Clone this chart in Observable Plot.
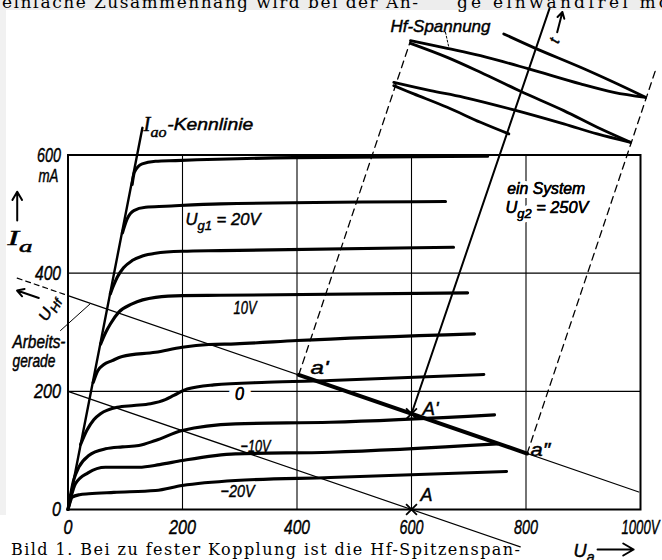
<!DOCTYPE html>
<html><head><meta charset="utf-8">
<script src="https://cdn.jsdelivr.net/npm/d3@7"></script>
<script src="https://cdn.jsdelivr.net/npm/@observablehq/plot@0.6"></script>
<style>
html,body{margin:0;padding:0;background:#fff;}
#wrap{position:relative;width:662px;height:560px;overflow:hidden;}
#bg,#fg{position:absolute;left:0;top:0;}
#fg g[aria-label="text"]:not([stroke="white"]) text { stroke: black; stroke-width: 0.45px; }
#fg g[aria-label*="axis"] text { font-size: 21px; stroke: black; stroke-width: 0.45px; }
</style></head><body>
<div id="wrap">
<svg id="bg" width="662" height="560">
  <rect x="0" y="0" width="662" height="10" fill="#ededed"/>
  <rect x="0" y="10" width="6" height="505" fill="#f1f1f1"/>
  <text x="2" y="8" font-family="'DejaVu Serif', serif" font-size="17" textLength="416" lengthAdjust="spacing">einfache Zusammenhang wird bei der An-</text>
  <text x="457" y="8" font-family="'DejaVu Serif', serif" font-size="17" textLength="226" lengthAdjust="spacing">ge einwandfrei mög</text>
  <text x="11" y="555" font-family="'DejaVu Serif', serif" font-size="16" textLength="509" lengthAdjust="spacing">Bild 1. Bei zu fester Kopplung ist die Hf-Spitzenspan-</text>
</svg>
<div id="fg"></div>
</div>
<script>
// ---- axes ----
const xTicks = [0, 200, 400, 600, 800, 1000];
const xTickLabels = ["0", "200", "400", "600", "800", "1000V"];
const yTicks = [0, 200, 400, 600];
const yTickLabels = ["0", "200", "400", "600"];
const xGrid = [200, 400, 600, 800];
const yGrid = [200, 400];

// ---- Ia(Ua) characteristics, [Ua in V, Ia in mA] ----
const curve1 = [[112,550],[116,571],[129.6,585],[152.8,589.3],[188,590.5],[394,595.6],[733,598]];
const curve2 = [[95,468],[103.4,492],[115,506],[135.4,511.5],[170.3,513.2],[266.4,517.3],[659.4,521.2]];
const curve3 = [[74,365],[80,380],[86,393],[97,409],[112,421.3],[130,429],[152.8,433.7],[199.5,437],[266.4,438.2],[673.4,443.8]];
const curve4 = [[57,280],[66,300],[74,314],[88.7,334],[112,348],[153,359],[200,362],[266,362.5],[698,366.7]];
const curve5 = [[44,215],[52,235],[62,245],[77.2,252],[94.7,259],[152.8,266.2],[199.5,274.6],[245.9,279.2],[292.6,280.4],[400.3,286],[710,297.3]];
const curve6 = [[22,110],[33,134],[45,152],[56.8,162],[85.9,173],[115,176],[144.1,179],[170,186],[184.8,193],[208.2,204],[254.7,211],[348,215.4],[458.5,218.3],[726.3,228.4]];
const curve7 = [[0,0],[10,50],[18.9,71.6],[36.3,91.4],[65.5,102.7],[95,106],[123.7,108.3],[152.8,116.8],[199.5,133.7],[292.6,145],[458.5,147.7],[745,160.2]];
const curve8 = [[0,0],[5,20],[13,43.5],[35,62],[65.5,71.6],[123.7,71.6],[160,76],[199.5,82.9],[292.6,94.2],[458.5,97],[750,111]];
const curve9 = [[0,0],[3,10],[7.3,20.8],[20,25],[36.3,26.6],[80,29],[152.8,32.1],[199.5,40.6],[292.6,49.1],[458.5,54.1],[766,64.3]];
const curves = [curve1, curve2, curve3, curve4, curve5, curve6, curve7, curve8, curve9];

// ---- straight lines ----
const iaoLine = [[0,0],[130,646]];
const loadLineA = [[0,200],[790,-63.3]];          // through A
const loadLineB = [[0,362],[997,29.7]];           // shifted, through A'
const loadLineBExt = [[-88.7,391.6],[0,362]];     // dashed continuation (U_Hf direction)
const workSegment = [[403,227.7],[802,94.7]];     // a' .. a''
const projLeft = [[403,227.7],[598.3,793.6]];     // dashed from a'
const projRight = [[802,94.7],[1026,742.8]];      // dashed from a''
const timeAxis = [[600,162],[841,847.7]];
const leaderArbeit = [[-13.1,302.9],[39.3,348.6]];
const leaderHf = [[659.4,807.6],[665.2,782.2]];

// ---- Hf voltage sweep (zig-zag envelope) ----
const hfE = [[569.1,717.4],[604,703.4],[662.4,680.7],[720.5,655.3],[770,635.7]];
const hfD = [[569.1,723],[633.2,709],[691.4,697.6],[778.7,676.3],[866,652.6],[924.4,635.7],[982.5,621.5]];
const hfC = [[598.3,789],[662.4,765.3],[720.5,740],[790.4,707.8],[866,675.1],[924.4,646.9],[982.5,621.5]];
const hfB = [[598.3,793.6],[662.4,780.5],[720.5,768.2],[804.9,745.7],[895.2,720.3],[953.4,706.1],[1008.7,697.6]];
const hfA = [[761.2,804.9],[816.6,780.5],[895.2,748.4],[953.4,723],[1008.7,697.6]];
const hfLines = [hfE, hfD, hfC, hfB, hfA];

// ---- points ----
const crossPoints = [[600,0],[600,162]];

// ---- texts ----
const curveLabels = ["U_{g1} = 20V", "10V", "0", "−10V", "−20V"];
const pointLabels = ["a'", "A'", "A", "a\u2033"];
const otherLabels = ["ein System", "U_{g2} = 250V", "Arbeits-", "gerade", "mA", "Hf-Spannung", "-Kennlinie", "t"];
const symbolLabels = ["I_{ao}", "I_{a}", "U_{a}", "U_{Hf}"];

// rendered widths (px) of the condensed technical lettering
const textWidths = {"0": 9, "200": 27, "400": 26, "600": 24, "800": 24, "1000V": 38, "mA": 20,
  "U_{g1} = 20V": 75, "10V": 23, "−10V": 30, "−20V": 34, "ein System": 78, "U_{g2} = 250V": 83,
  "a'": 18, "A'": 16, "A": 12, "a\u2033": 20, "Arbeits-": 53, "gerade": 43, "Hf-Spannung": 100,
  "-Kennlinie": 86, "I_{ao}": 23, "I_{a}": 25, "U_{a}": 21, "U_{Hf}": 26};

const SANS = "'Liberation Sans', Arial, sans-serif";
const SERIF = "'Liberation Serif', 'DejaVu Serif', serif";

const X = d => d[0], Y = d => d[1];
const seg = (pts, o) => Plot.line(pts, {x: X, y: Y, stroke: "black", ...o});
const lab = (s, x, y, o = {}) => Plot.text([s], {x: () => x, y: () => y, text: d => d, textAnchor: "start",
  fontFamily: SANS, fontStyle: "italic", fontSize: 17, fill: "black", ...o});

const plot = Plot.plot({
  width: 662, height: 560,
  marginLeft: 67.5, marginRight: 22, marginTop: 154.5, marginBottom: 51,
  style: {background: "transparent", fontFamily: SANS, fontStyle: "italic", fontSize: "21px", color: "black", overflow: "visible"},
  x: {domain: [0, 1000], ticks: xTicks, tickFormat: d => xTickLabels[xTicks.indexOf(d)], tickSize: 0, tickPadding: 10, label: null},
  y: {domain: [0, 600], ticks: yTicks, tickFormat: d => yTickLabels[yTicks.indexOf(d)], tickSize: 0, tickPadding: 7, label: null},
  marks: [
    Plot.ruleX(xGrid, {y1: 0, y2: 600, stroke: "black", strokeWidth: 1.1}),
    Plot.ruleY(yGrid, {x1: 0, x2: 1000, stroke: "black", strokeWidth: 1.1}),
    Plot.frame({stroke: "black", strokeWidth: 2}),
    // labels that break grid lines
    lab(curveLabels[2], 299.6, 195.4, {textAnchor: "middle", fontSize: 19, stroke: "white", strokeWidth: 16, paintOrder: "stroke"}),
    lab(otherLabels[0], 767.2, 542.6, {stroke: "white", strokeWidth: 8, paintOrder: "stroke"}),
    lab(otherLabels[1], 764.2, 511.5, {stroke: "white", strokeWidth: 8, paintOrder: "stroke"}),
    lab(otherLabels[0], 767.2, 542.6),
    lab(otherLabels[1], 764.2, 511.5),
    lab(curveLabels[2], 299.6, 195.4, {textAnchor: "middle", fontSize: 19}),
    // thin lines
    seg(loadLineA, {strokeWidth: 1.2}),
    seg(loadLineB, {strokeWidth: 1.2}),
    seg(loadLineBExt, {strokeWidth: 1.2, strokeDasharray: "5,4"}),
    seg(leaderArbeit, {strokeWidth: 1}),
    seg(projLeft, {strokeWidth: 1.3, strokeDasharray: "7,5"}),
    seg(projRight, {strokeWidth: 1.3, strokeDasharray: "7,5"}),
    seg(leaderHf, {strokeWidth: 1, strokeDasharray: "2,2"}),
    // characteristic curves
    ...curves.map(c => seg(c, {curve: "monotone-x", strokeWidth: 3.1, strokeLinecap: "round", strokeLinejoin: "round"})),
    seg(iaoLine, {strokeWidth: 2.4}),
    seg(workSegment, {strokeWidth: 4, strokeLinecap: "round"}),
    seg(timeAxis, {strokeWidth: 2}),
    ...hfLines.map(c => seg(c, {curve: "catmull-rom", strokeWidth: 2.8, strokeLinecap: "round"})),
    Plot.dot(crossPoints, {x: X, y: Y, symbol: "times", r: 5, stroke: "black", strokeWidth: 1.8}),
    // arrows
    Plot.arrow([0], {x1: -51, y1: 358, x2: -89, y2: 370.6, stroke: "black", strokeWidth: 2, headLength: 8}),
    Plot.arrow([0], {x1: -88.7, y1: 489, x2: -88.7, y2: 538, stroke: "black", strokeWidth: 2, headLength: 9}),
    Plot.arrow([0], {x1: 925, y1: -67.7, x2: 988, y2: -67.7, stroke: "black", strokeWidth: 2, headLength: 9}),
    Plot.arrow([0], {x1: 854.5, y1: 807.6, x2: 863.6, y2: 842, stroke: "black", strokeWidth: 2, headLength: 8}),
    // text labels
    lab(curveLabels[0], 205.2, 490.7),
    lab(curveLabels[1], 289.1, 341, {fontSize: 19}),
    lab(curveLabels[3], 301.3, 106.6),
    lab(curveLabels[4], 266.4, 29.6),
    lab(pointLabels[0], 423.6, 239.4, {fontSize: 18}),
    lab(pointLabels[1], 619.2, 169.2, {fontSize: 18}),
    lab(pointLabels[2], 615.7, 23.7, {fontSize: 18}),
    lab(pointLabels[3], 807.9, 99.8, {fontSize: 18}),
    lab(otherLabels[2], -97, 283.4, {fontSize: 18}),
    lab(otherLabels[3], -97, 251.3, {fontSize: 18}),
    lab(otherLabels[4], -16.6, 565, {textAnchor: "end", fontSize: 19}),
    lab(otherLabels[5], 563.3, 817.6, {fontSize: 17}),
    lab(otherLabels[6], 173.3, 651.4, {fontSize: 17}),
    lab(otherLabels[7], 849.8, 793.6, {textAnchor: "middle", rotate: -70, fontSize: 15}),
    lab(symbolLabels[0], 131.9, 651.4, {fontFamily: SERIF, fontSize: 20}),
    lab(symbolLabels[1], -105.7, 458.5, {fontFamily: SERIF, fontSize: 21}),
    lab(symbolLabels[2], 883, -69.4, {fontSize: 19}),
    lab(symbolLabels[3], -34, 340, {textAnchor: "middle", rotate: -62, fontSize: 15})
  ]
});
document.getElementById("fg").appendChild(plot);

// fit widths, then turn "_{...}" into lowered, smaller tspans
const NS = "http://www.w3.org/2000/svg";
plot.querySelectorAll("text").forEach(t => {
  const s = t.textContent;
  if (textWidths[s] !== undefined) {
    t.setAttribute("textLength", textWidths[s]);
    t.setAttribute("lengthAdjust", "spacingAndGlyphs");
  }
  if (!s.includes("_{")) return;
  const fs = parseFloat(getComputedStyle(t).fontSize) || 17;
  const off = (fs * 0.3).toFixed(1);
  t.textContent = "";
  let shifted = false;
  s.split(/(_\{[^}]*\})/).forEach(p => {
    if (!p) return;
    const ts = document.createElementNS(NS, "tspan");
    if (p.startsWith("_{")) {
      ts.textContent = p.slice(2, -1);
      ts.setAttribute("dy", off);
      ts.setAttribute("font-size", (fs * 0.78).toFixed(1));
      shifted = true;
    } else {
      ts.textContent = p;
      if (shifted) { ts.setAttribute("dy", "-" + off); shifted = false; }
    }
    t.appendChild(ts);
  });
});
</script>
</body></html>
